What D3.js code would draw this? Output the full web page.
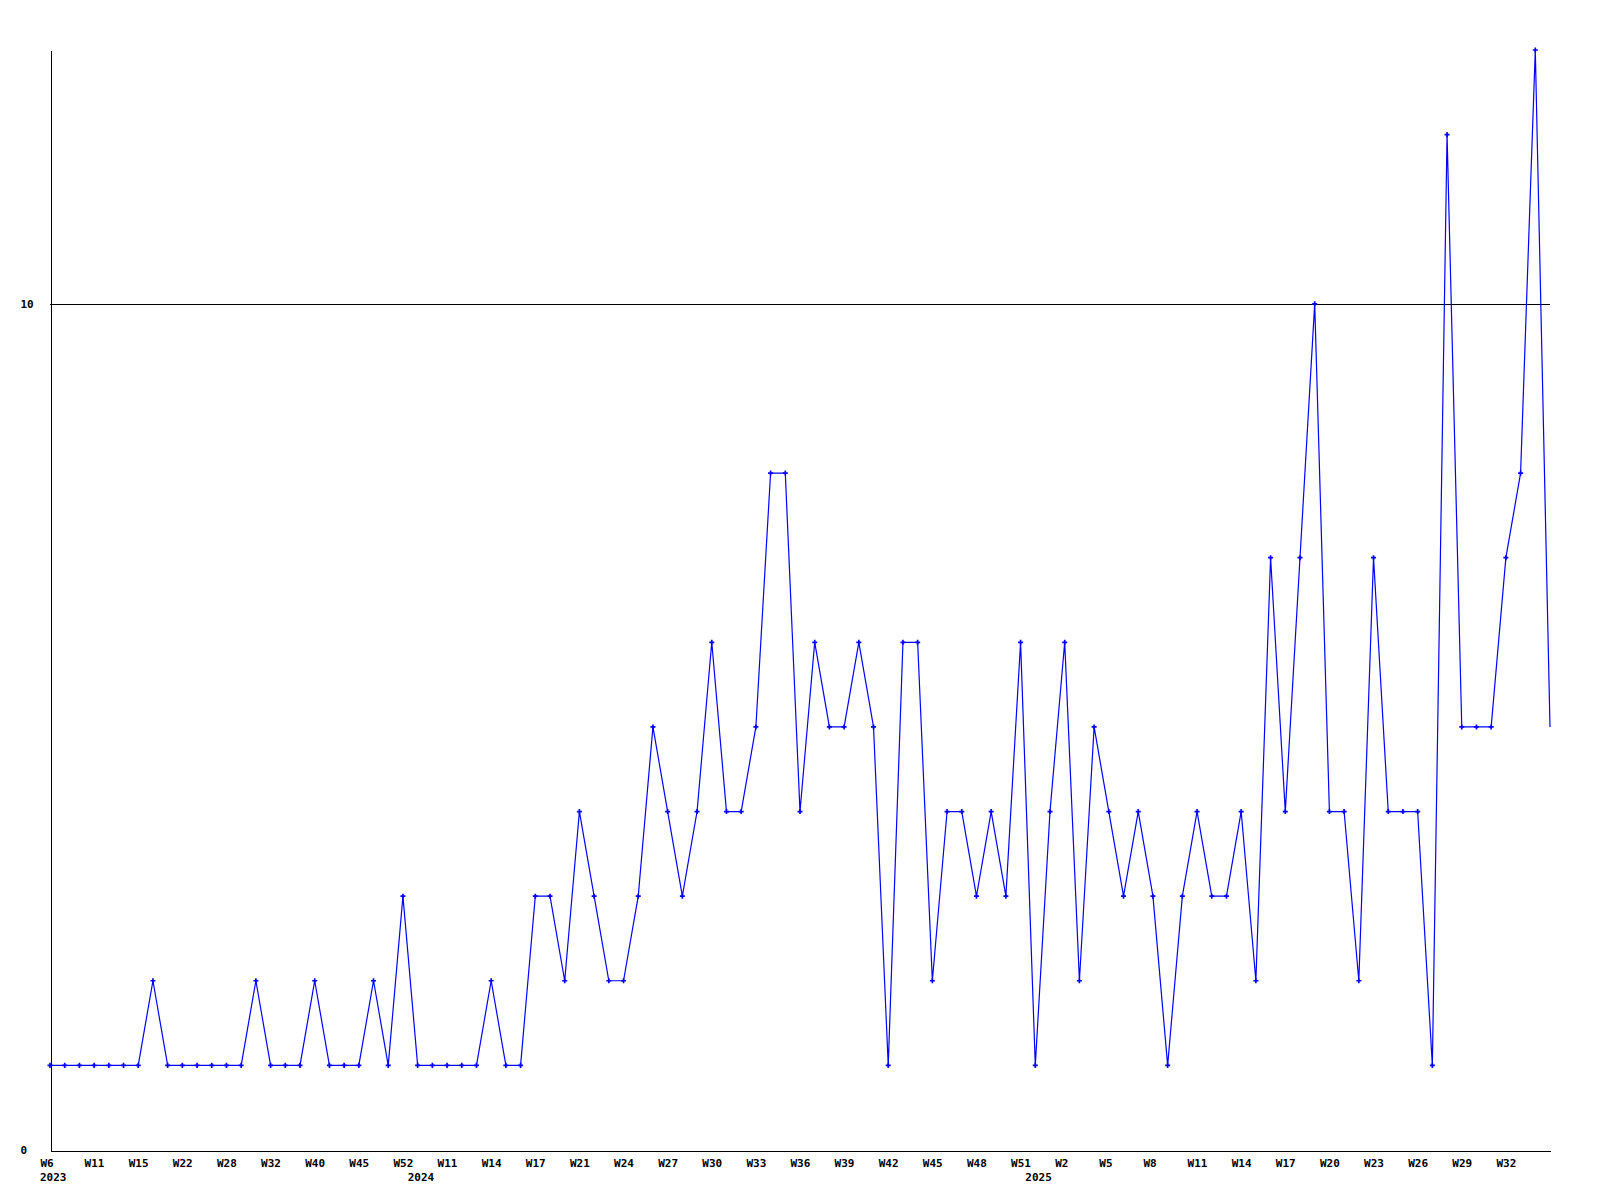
<!DOCTYPE html>
<html>
<head>
<meta charset="utf-8">
<script src="https://cdn.jsdelivr.net/npm/d3@7/dist/d3.min.js"></script>
<style>
  html, body { margin: 0; padding: 0; background: #fff; }
  svg { display: block; }
  text { font-family: "DejaVu Sans Mono", monospace; font-weight: bold; font-size: 11px; fill: #000; }
</style>
</head>
<body>
<svg id="chart" width="1600" height="1200"></svg>
<script>
// ---- data ----
const values = [1,1,1,1,1,1,1,2,1,1, 1,1,1,1,2,1,1,1,2,1, 1,1,2,1,3,1,1,1,1,1,
  2,1,1,3,3,2,4,3,2,2, 3,5,4,3,4,6,4,4,5,8, 8,4,6,5,5,6,5,1,6,6,
  2,4,4,3,4,3,6,1,4,6, 2,5,4,3,4,3,1,3,4,3, 3,4,2,7,4,7,10,4,4,2,
  7,4,4,4,1,12,5,5,5,7, 8,13,5];
const weekLabels = ["W6","W11","W15","W22","W28","W32","W40","W45","W52","W11","W14","W17",
  "W21","W24","W27","W30","W33","W36","W39","W42","W45","W48","W51","W2","W5","W8",
  "W11","W14","W17","W20","W23","W26","W29","W32"];
const weekLabelStep = 3;
const yearLabels = ["2023","2024","2025"];
const yearIndex = [0, 25, 67];
const yTicks = [0, 10];
const yMax = 13;

// ---- layout ----
const svg = d3.select("#chart");
const mLeft = 50, mRight = 1550, mTop = 50, mBottom = 1150;
const x = d3.scaleLinear().domain([0, values.length - 1]).range([mLeft, mRight]);
const y = d3.scaleLinear().domain([0, yMax]).range([mBottom, mTop]);
const blue = "#0000ff";

// reference line at 10
svg.append("line")
  .attr("x1", mLeft).attr("x2", mRight)
  .attr("y1", Math.round(y(10)) + 0.5).attr("y2", Math.round(y(10)) + 0.5)
  .attr("stroke", "#000").attr("stroke-width", 1).attr("shape-rendering", "crispEdges");

// y axis
const yAxis = svg.append("g")
  .attr("transform", `translate(${mLeft + 0.5},0)`)
  .call(d3.axisLeft(y).tickValues(yTicks).tickSize(0).tickSizeOuter(0).tickFormat(d3.format("d")));
yAxis.select(".domain").attr("stroke", "#000").attr("shape-rendering", "crispEdges");
yAxis.selectAll(".tick text")
  .attr("x", -30).attr("dy", "0.35em")
  .attr("text-anchor", "start")
  .style("font-family", "'DejaVu Sans Mono', monospace").style("font-size", "11px").style("font-weight", "bold");

// x axis
const tickIdx = weekLabels.map((_, i) => i * weekLabelStep);
const xAxis = svg.append("g")
  .attr("transform", `translate(0,${mBottom + 0.5})`)
  .call(d3.axisBottom(x).tickValues(tickIdx).tickSize(0).tickSizeOuter(0)
    .tickFormat((d, i) => weekLabels[i]));
xAxis.select(".domain").attr("stroke", "#000").attr("shape-rendering", "crispEdges");
xAxis.selectAll(".tick text")
  .attr("x", -10).attr("y", 16).attr("dy", 0)
  .attr("text-anchor", "start")
  .style("font-family", "'DejaVu Sans Mono', monospace").style("font-size", "11px").style("font-weight", "bold");

// year labels
svg.append("g").selectAll("text").data(yearLabels).join("text")
  .attr("x", (d, i) => x(yearIndex[i]) - 10)
  .attr("y", mBottom + 31)
  .text(d => d);

// line
const line = d3.line().x((d, i) => x(i)).y(d => y(d));
svg.append("path")
  .datum(values)
  .attr("d", line)
  .attr("fill", "none")
  .attr("stroke", blue)
  .attr("stroke-width", 1.2);

// markers (last point sits on the clip edge and shows no marker)
svg.append("g").selectAll("path").data(values.slice(0, values.length - 1)).join("path")
  .attr("transform", (d, i) => `translate(${x(i)},${y(d)})`)
  .attr("d", d3.symbol(d3.symbolCross, 14))
  .attr("fill", blue);
</script>
</body>
</html>
